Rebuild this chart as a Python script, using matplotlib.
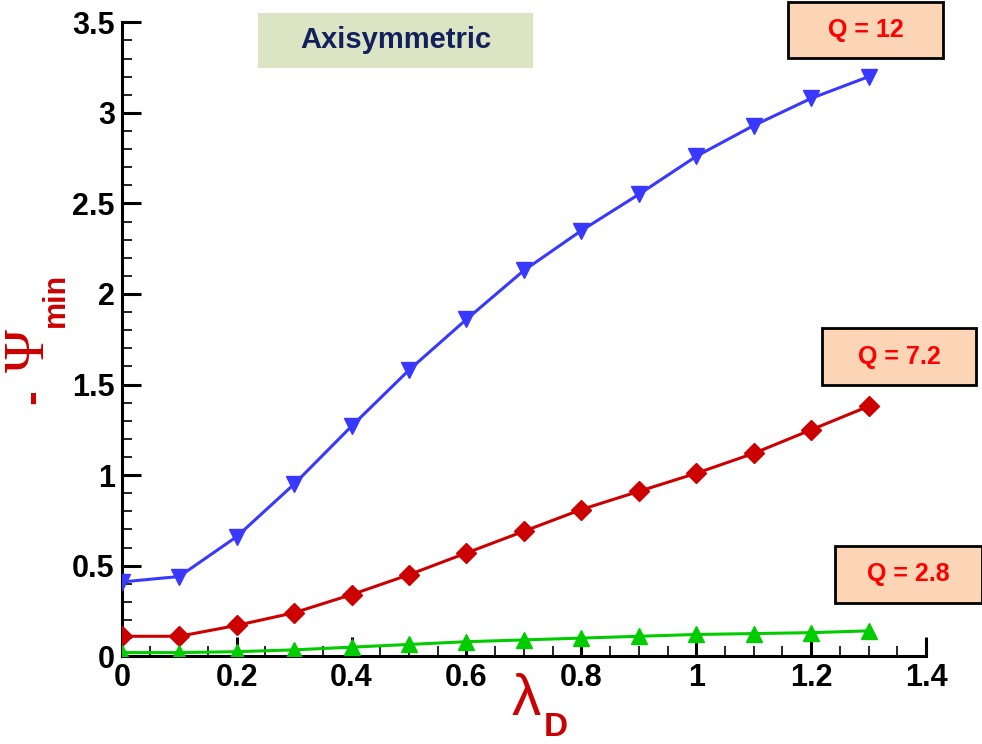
import numpy as np
import matplotlib
matplotlib.use("Agg")
import matplotlib.pyplot as plt
from matplotlib.ticker import MultipleLocator, FuncFormatter

# lambda_D values
lam = [0.0, 0.1, 0.2, 0.3, 0.4, 0.5, 0.6, 0.7, 0.8, 0.9, 1.0, 1.1, 1.2, 1.3]

# -psi_min for each Q
psi_q12 = [0.41, 0.44, 0.66, 0.95, 1.27, 1.58, 1.86, 2.13, 2.35, 2.55, 2.76, 2.93, 3.08, 3.20]
psi_q72 = [0.11, 0.11, 0.17, 0.24, 0.34, 0.45, 0.57, 0.69, 0.81, 0.91, 1.01, 1.12, 1.25, 1.38]
psi_q28 = [0.02, 0.02, 0.025, 0.035, 0.05, 0.065, 0.08, 0.09, 0.10, 0.11, 0.12, 0.125, 0.13, 0.14]

plt.rcParams['font.family'] = ['Liberation Sans', 'DejaVu Sans']

fig = plt.figure(figsize=(9.82, 7.44), dpi=100)
ax = fig.add_axes([0.124, 0.118, 0.819, 0.852])

ax.plot(lam, psi_q12, color='#3838ff', lw=2.2, marker='v', ms=11, zorder=3)
ax.plot(lam, psi_q72, color='#cc0000', lw=2.2, marker='D', ms=10, zorder=3)
ax.plot(lam, psi_q28, color='#00cc00', lw=2.2, marker='^', ms=11, zorder=3)

ax.set_xlim(0, 1.4)
ax.set_ylim(0, 3.5)
ax.xaxis.set_major_locator(MultipleLocator(0.2))
ax.xaxis.set_minor_locator(MultipleLocator(0.05))
ax.yaxis.set_major_locator(MultipleLocator(0.5))
ax.yaxis.set_minor_locator(MultipleLocator(0.1))
fmt = FuncFormatter(lambda v, p: f"{v:g}")
ax.xaxis.set_major_formatter(fmt)
ax.yaxis.set_major_formatter(fmt)

for s in ['top', 'right']:
    ax.spines[s].set_visible(False)
for s in ['left', 'bottom']:
    ax.spines[s].set_linewidth(2.2)
ax.tick_params(which='major', direction='in', length=14, width=2.2,
               labelsize=22, pad=5)
ax.tick_params(which='minor', direction='in', length=7, width=1.2)
for lbl in ax.get_xticklabels() + ax.get_yticklabels():
    lbl.set_fontweight('bold')

# axis labels built from pieces
fig.text(526 / 982, 1 - 700 / 744, 'λ', color='#cc0000', fontsize=42,
         ha='center', va='center')
fig.text(556 / 982, 1 - 728 / 744, 'D', color='#cc0000', fontsize=24,
         fontweight='bold', ha='center', va='center')
fig.text(33 / 982, 1 - 397 / 744, '-', color='#cc0000', fontsize=32,
         fontweight='bold', rotation=90, ha='center', va='center')
fig.text(30 / 982, 1 - 350 / 744, 'Ψ', color='#cc0000', fontsize=42,
         family='Liberation Serif', rotation=90, ha='center', va='center')
fig.text(56 / 982, 1 - 300 / 744, 'min', color='#cc0000', fontsize=22,
         fontweight='bold', rotation=90, ha='center', va='center')

# annotation boxes
def box_label(x0, y0, x1, y1, text, fc, tc, ec, size):
    fig.patches.append(plt.Rectangle((x0 / 982, 1 - y1 / 744),
                                     (x1 - x0) / 982, (y1 - y0) / 744,
                                     transform=fig.transFigure, fc=fc, ec=ec,
                                     lw=2 if ec != 'none' else 0, zorder=5))
    fig.text((x0 + x1) / 2 / 982, 1 - (y0 + y1) / 2 / 744, text, color=tc,
             fontsize=size, fontweight='bold', ha='center', va='center', zorder=6)

box_label(258, 13, 533, 68, 'Axisymmetric', '#dbe5c3', '#12205e', 'none', 21)
box_label(788, 2, 943, 58, 'Q = 12', '#fbd5b5', '#ff0000', 'black', 18)
box_label(822, 328, 976, 385, 'Q = 7.2', '#fbd5b5', '#ff0000', 'black', 18)
box_label(835, 546, 982, 603, 'Q = 2.8', '#fbd5b5', '#ff0000', 'black', 18)

fig.savefig('out.png', dpi=100)
